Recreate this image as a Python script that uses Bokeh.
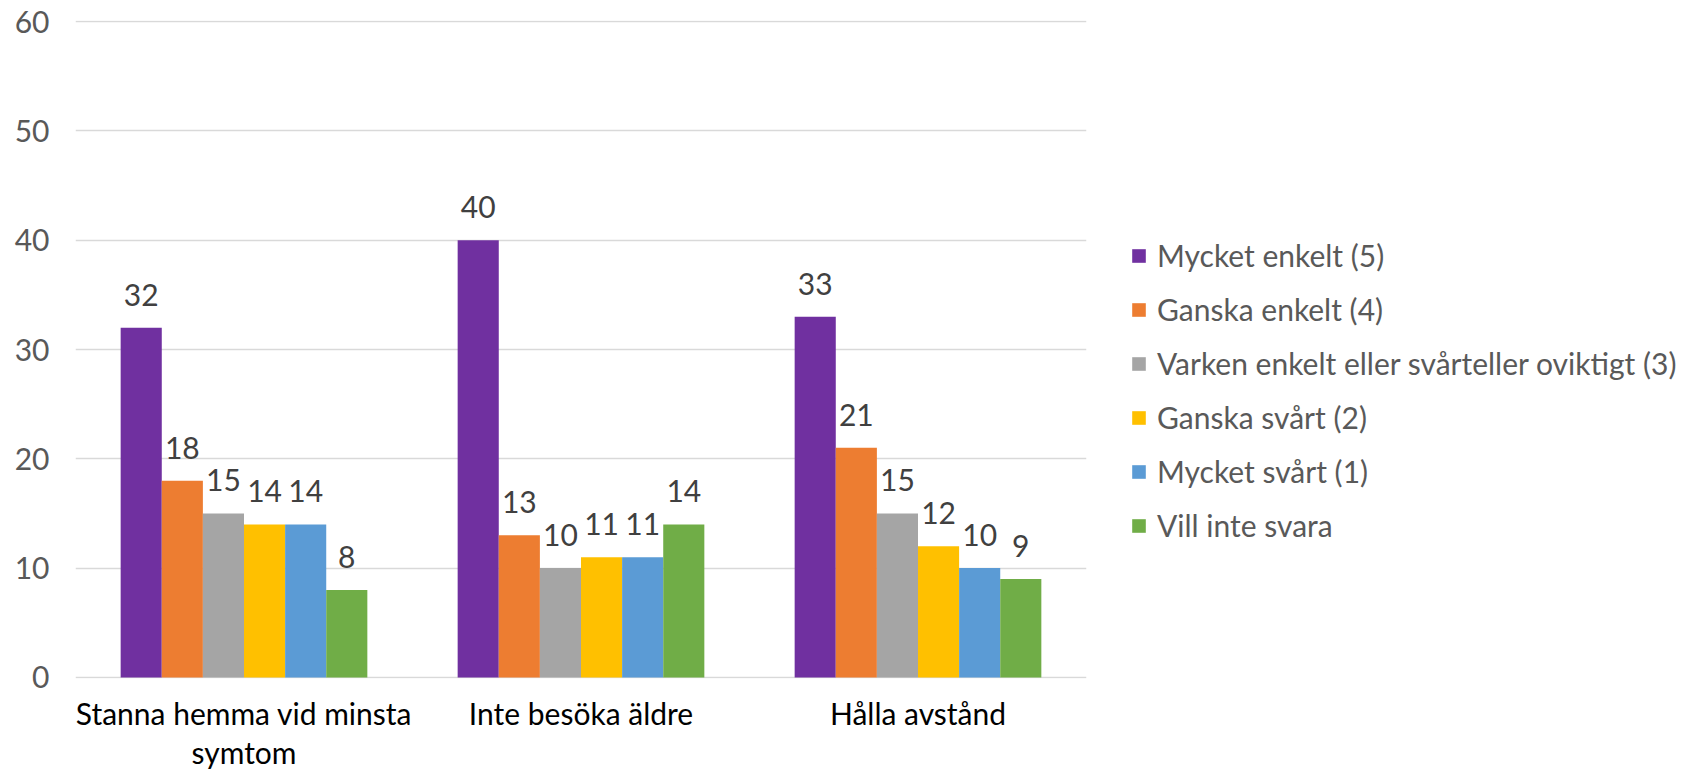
from bokeh.plotting import figure
from bokeh.layouts import row
from bokeh.models import (FactorRange, Range1d, Legend, LegendItem, ColumnDataSource,
                          FixedTicker, CategoricalAxis, CustomJSTickFormatter)
from bokeh.transform import dodge
from bokeh.core.properties import value
from bokeh.embed import file_html
from bokeh.resources import INLINE

categories = ["Stanna hemma vid minsta symtom", "Inte besöka äldre", "Hålla avstånd"]
category_line1 = ["Stanna hemma vid minsta", "Inte besöka äldre", "Hålla avstånd"]
category_line2 = ["symtom", "", ""]
series_names = [
    "Mycket enkelt (5)",
    "Ganska enkelt (4)",
    "Varken enkelt eller svårteller oviktigt (3)",
    "Ganska svårt (2)",
    "Mycket svårt (1)",
    "Vill inte svara",
]
mycket_enkelt = [32, 40, 33]
ganska_enkelt = [18, 13, 21]
varken = [15, 10, 15]
ganska_svart = [14, 11, 12]
mycket_svart = [14, 11, 10]
vill_inte = [8, 14, 9]
series_values = [mycket_enkelt, ganska_enkelt, varken, ganska_svart, mycket_svart, vill_inte]
colors = ["#7030A0", "#ED7D31", "#A5A5A5", "#FFC000", "#5B9BD5", "#70AD47"]
y_ticks = [0, 10, 20, 30, 40, 50, 60]

FONT = "Lato"
FS = "30px"

p = figure(
    x_range=FactorRange(*categories, range_padding=0),
    y_range=Range1d(-0.1, 60.1),
    width=1100, height=772,
    output_backend="svg", toolbar_location=None,
    min_border_left=75, min_border_right=14,
    min_border_top=20, min_border_bottom=93,
)
p.outline_line_color = None
p.background_fill_color = "white"
p.border_fill_color = "white"

# legend-only panel on the right; its key renderers are hidden, only the legend shows
pl = figure(
    x_range=FactorRange(*categories, range_padding=0), y_range=Range1d(100, 101),
    width=581, height=772, output_backend="svg", toolbar_location=None,
    x_axis_type=None, y_axis_type=None,
    min_border_left=0, min_border_right=0, min_border_top=0, min_border_bottom=0,
)
pl.outline_line_color = None
pl.xgrid.visible = False
pl.ygrid.visible = False

bw = 0.122
items = []
for i, (name, vals, col) in enumerate(zip(series_names, series_values, colors)):
    src = ColumnDataSource(dict(cat=categories, val=vals, lab=[str(v) for v in vals]))
    off = (i - 2.5) * bw
    p.vbar(x=dodge("cat", off, range=p.x_range), top="val", width=bw,
           source=src, fill_color=col, line_color=None)
    p.text(x=dodge("cat", off, range=p.x_range), y="val", text="lab", source=src,
           y_offset=-33, text_align="center", text_baseline="middle",
           text_font=value(FONT), text_font_size=value(FS), text_color="#404040")
    key = pl.vbar(x=dodge("cat", off, range=pl.x_range), top="val", width=bw,
                  source=src, fill_color=col, line_color=None)
    key.visible = False
    items.append(LegendItem(label=name, renderers=[key]))

p.xgrid.grid_line_color = None
p.ygrid.grid_line_color = "#D9D9D9"
p.ygrid.grid_line_width = 1.5
p.yaxis.ticker = FixedTicker(ticks=y_ticks)
p.yaxis.axis_line_color = None
p.yaxis.major_tick_line_color = None
p.yaxis.minor_tick_line_color = None
p.yaxis.major_tick_out = 0
p.yaxis.minor_tick_out = 0
p.yaxis.major_label_standoff = 26
p.yaxis.major_label_text_font = FONT
p.yaxis.major_label_text_font_size = FS
p.yaxis.major_label_text_color = "#595959"

fmt_code = "const i = cats.indexOf(tick); return i < 0 ? tick : labels[i];"

xa = p.xaxis[0]
xa.axis_line_color = None
xa.major_tick_line_color = None
xa.major_tick_out = 0
xa.major_label_standoff = 16
xa.major_label_text_font = FONT
xa.major_label_text_font_size = FS
xa.major_label_text_color = "#000000"
xa.formatter = CustomJSTickFormatter(args=dict(cats=categories, labels=category_line1), code=fmt_code)

xa2 = CategoricalAxis(
    axis_line_color=None, major_tick_line_color=None, minor_tick_line_color=None,
    major_tick_out=0, major_label_standoff=0,
    major_label_text_font=FONT, major_label_text_font_size=FS,
    major_label_text_color="#000000",
    formatter=CustomJSTickFormatter(args=dict(cats=categories, labels=category_line2), code=fmt_code),
)
p.add_layout(xa2, "below")

legend = Legend(
    items=items, location=(30, 135),
    glyph_width=17, glyph_height=17, label_standoff=10, spacing=18,
    padding=0, margin=0, border_line_color=None, background_fill_alpha=0,
    label_text_font=FONT, label_text_font_size=FS, label_text_color="#595959",
)
pl.add_layout(legend, "center")

open("out.html", "w").write(file_html(row(p, pl), INLINE))
